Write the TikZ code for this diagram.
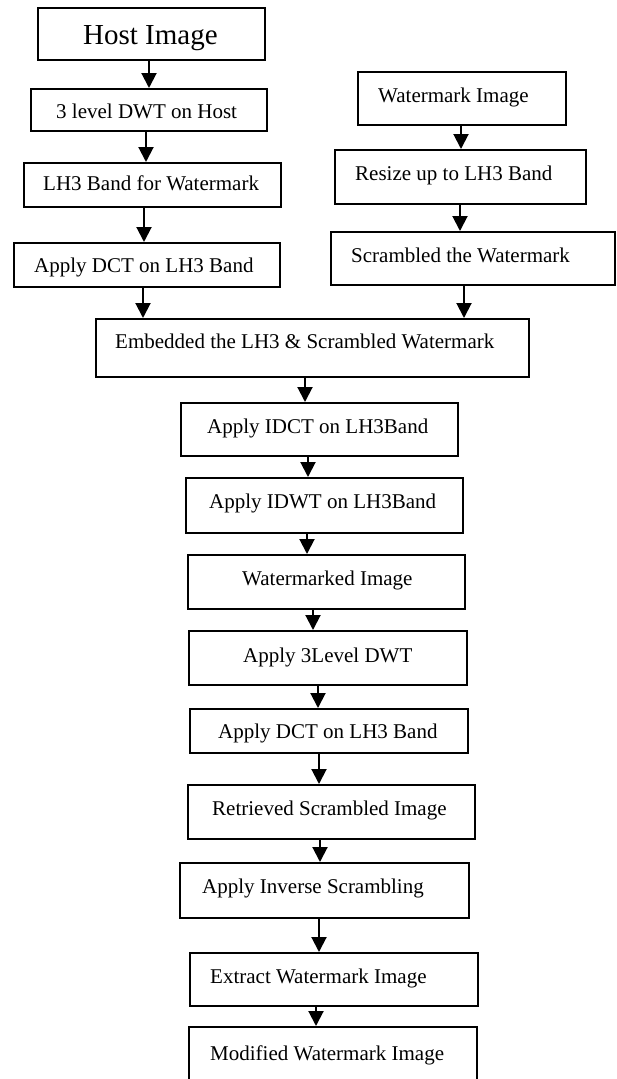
\documentclass[tikz,border=0pt]{standalone}
\usepackage{fontspec}
\setmainfont{Liberation Serif}
\usetikzlibrary{arrows.meta}

\begin{document}
\begin{tikzpicture}[x=1pt,y=-1pt,
  box/.style={draw=black,line width=1.7pt,rectangle,inner sep=0pt,anchor=north west},
  hostbox/.style={box,line width=2.4pt},
  lbl/.style={anchor=base west,inner sep=0pt,font=\fontsize{21}{24}\selectfont},
  biglbl/.style={anchor=base west,inner sep=0pt,font=\fontsize{29}{33}\selectfont},
  arr/.style={line width=2pt,-{Triangle[width=15pt,length=15pt]}}]

\useasboundingbox (0,0) rectangle (616,1079);
\fill[white] (0,0) rectangle (616,1079);
\clip (0,0) rectangle (616,1079);

% embedding branch: host image
\node[hostbox,minimum width=227pt,minimum height=52pt] (host) at (37,7) {};
\node[box,minimum width=236pt,minimum height=42pt] (dwt) at (30,88) {};
\node[box,minimum width=257pt,minimum height=44pt] (lh3) at (23,162) {};
\node[box,minimum width=266pt,minimum height=44pt] (dcta) at (13,242) {};

% embedding branch: watermark
\node[box,minimum width=208pt,minimum height=53pt] (wm) at (357,71) {};
\node[box,minimum width=251pt,minimum height=54pt] (resize) at (334,149) {};
\node[box,minimum width=284pt,minimum height=53pt] (scr) at (330,231) {};

% merge and extraction chain
\node[box,minimum width=433pt,minimum height=58pt] (emb) at (95,318) {};
\node[box,minimum width=277pt,minimum height=53pt] (idct) at (180,402) {};
\node[box,minimum width=277pt,minimum height=55pt] (idwt) at (185,477) {};
\node[box,minimum width=277pt,minimum height=54pt] (wmd) at (187,554) {};
\node[box,minimum width=278pt,minimum height=54pt] (dwtc) at (188,630) {};
\node[box,minimum width=278pt,minimum height=44pt] (dctb) at (189,708) {};
\node[box,minimum width=287pt,minimum height=54pt] (ret) at (187,784) {};
\node[box,minimum width=289pt,minimum height=55pt] (inv) at (179,862) {};
\node[box,minimum width=288pt,minimum height=53pt] (ext) at (189,952) {};
\node[box,minimum width=288pt,minimum height=80pt] (mod) at (188,1026) {};

% box texts
\node[biglbl] (t-host) at (83,44) {Host Image};
\node[lbl] (t-dwt) at (56,118) {3 level DWT on Host};
\node[lbl] (t-lh3) at (43,190) {LH3 Band for Watermark};
\node[lbl] (t-dcta) at (34,272) {Apply DCT on LH3 Band};
\node[lbl] (t-wm) at (378,102) {Watermark Image};
\node[lbl] (t-resize) at (355,180) {Resize up to LH3 Band};
\node[lbl] (t-scr) at (351,262) {Scrambled the Watermark};
\node[lbl] (t-emb) at (115,348) {Embedded the LH3 \& Scrambled Watermark};
\node[lbl] (t-idct) at (207,433) {Apply IDCT on LH3Band};
\node[lbl] (t-idwt) at (209,508) {Apply IDWT on LH3Band};
\node[lbl] (t-wmd) at (242,585) {Watermarked Image};
\node[lbl] (t-dwtc) at (243,662) {Apply 3Level DWT};
\node[lbl] (t-dctb) at (218,738) {Apply DCT on LH3 Band};
\node[lbl] (t-ret) at (212,815) {Retrieved Scrambled Image};
\node[lbl] (t-inv) at (202,893) {Apply Inverse Scrambling};
\node[lbl] (t-ext) at (210,983) {Extract Watermark Image};
\node[lbl] (t-mod) at (210,1060) {Modified Watermark Image};

% horizontal positions of the connectors
\coordinate (c1) at (149,0);
\coordinate (c2) at (146,0);
\coordinate (c3) at (144,0);
\coordinate (c4) at (143,0);
\coordinate (c5) at (461,0);
\coordinate (c6) at (460,0);
\coordinate (c7) at (464,0);
\coordinate (c8) at (305,0);
\coordinate (c9) at (308,0);
\coordinate (c10) at (307,0);
\coordinate (c11) at (313,0);
\coordinate (c12) at (318,0);
\coordinate (c13) at (319,0);
\coordinate (c14) at (320,0);
\coordinate (c15) at (319,0);
\coordinate (c16) at (316,0);

% connectors
\draw[arr] (host.south -| c1) -- (dwt.north -| c1);
\draw[arr] (dwt.south -| c2) -- (lh3.north -| c2);
\draw[arr] (lh3.south -| c3) -- (dcta.north -| c3);
\draw[arr] (dcta.south -| c4) -- (emb.north -| c4);
\draw[arr] (wm.south -| c5) -- (resize.north -| c5);
\draw[arr] (resize.south -| c6) -- (scr.north -| c6);
\draw[arr] (scr.south -| c7) -- (emb.north -| c7);
\draw[arr] (emb.south -| c8) -- (idct.north -| c8);
\draw[arr] (idct.south -| c9) -- (idwt.north -| c9);
\draw[arr] (idwt.south -| c10) -- (wmd.north -| c10);
\draw[arr] (wmd.south -| c11) -- (dwtc.north -| c11);
\draw[arr] (dwtc.south -| c12) -- (dctb.north -| c12);
\draw[arr] (dctb.south -| c13) -- (ret.north -| c13);
\draw[arr] (ret.south -| c14) -- (inv.north -| c14);
\draw[arr] (inv.south -| c15) -- (ext.north -| c15);
\draw[arr] (ext.south -| c16) -- (mod.north -| c16);
\end{tikzpicture}
\end{document}
